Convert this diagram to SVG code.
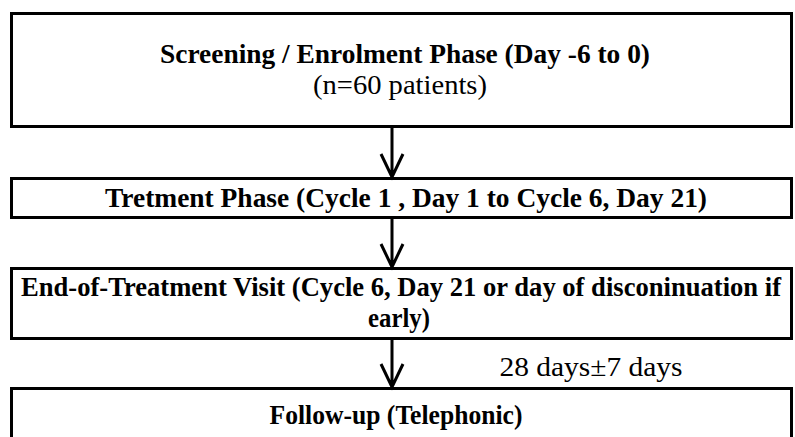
<svg xmlns="http://www.w3.org/2000/svg" width="795" height="437" viewBox="0 0 795 437">
<style>
.box{fill:#fff;stroke:#000;stroke-width:3}
.b{font-family:'Liberation Serif',serif;font-weight:700;font-size:28px;fill:#000}
.n{font-family:'Liberation Serif',serif;font-weight:400;font-size:27px;fill:#000}
.c{fill:none;stroke:#000;stroke-width:3}
</style>
<rect width="795" height="437" fill="#fff"/>
<g id="node-screening">
<rect class="box" x="11.5" y="13.5" width="780" height="113"/>
<text class="b" x="405" y="63" text-anchor="middle" textLength="490" lengthAdjust="spacingAndGlyphs">Screening / Enrolment Phase (Day -6 to 0)</text>
<text class="n" x="400" y="94" text-anchor="middle" textLength="174" lengthAdjust="spacingAndGlyphs">(n=60 patients)</text>
</g>
<g id="node-treatment">
<rect class="box" x="11.5" y="178.5" width="780" height="39"/>
<text class="b" x="406" y="207" text-anchor="middle" textLength="602" lengthAdjust="spacingAndGlyphs">Tretment Phase (Cycle 1 , Day 1 to Cycle 6, Day 21)</text>
</g>
<g id="node-eot">
<rect class="box" x="11.5" y="268.5" width="780" height="70"/>
<text class="b" x="401" y="296" text-anchor="middle" font-size="26" textLength="760" lengthAdjust="spacingAndGlyphs">End-of-Treatment Visit (Cycle 6, Day 21 or day of disconinuation if</text>
<text class="b" x="399" y="327" text-anchor="middle" textLength="62" lengthAdjust="spacingAndGlyphs">early)</text>
</g>
<g id="node-followup">
<rect class="box" x="11.5" y="388.5" width="780" height="60"/>
<text class="b" x="396" y="424" text-anchor="middle" textLength="253" lengthAdjust="spacingAndGlyphs">Follow-up (Telephonic)</text>
</g>
<g id="connectors">
<path class="c" d="M392 128V178M381 154L392 177L403 154"/>
<path class="c" d="M392 219V268M381 244L392 267L403 244"/>
<path class="c" d="M392 340V388M381 364L392 387L403 364"/>
<text class="n" x="591" y="376" text-anchor="middle" textLength="183" lengthAdjust="spacingAndGlyphs">28 days±7 days</text>
</g>
</svg>
